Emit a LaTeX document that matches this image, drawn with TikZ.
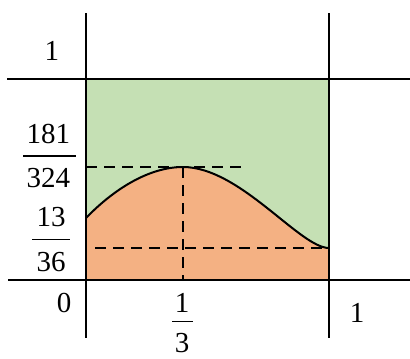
\documentclass[tikz,border=0pt]{standalone}
\usepackage{fontspec}
\setmainfont{Liberation Serif}
\definecolor{lgreen}{RGB}{197,224,180}
\definecolor{lorange}{RGB}{244,177,131}
\begin{document}
\begin{tikzpicture}[x=1pt,y=-1pt,
  axis/.style={line width=2.4pt},
  curvel/.style={line width=2pt},
  dashl/.style={line width=2.2pt,dash pattern=on 11pt off 7pt},
  fbar/.style={line width=1.8pt},
  lbl/.style={inner sep=0pt,anchor=base,font=\fontsize{29}{32}\selectfont}]
\useasboundingbox (0,0) rectangle (410,359);
\coordinate (O) at (86,280);
\coordinate (A) at (329,280);
\coordinate (B) at (329,79);
\coordinate (S) at (86,218);
\coordinate (M) at (183,167);
\coordinate (E) at (329,248);
% fills
\fill[lgreen] (O) rectangle (B);
\fill[lorange] (O) -- (S) .. controls (115,188) and (150,167) .. (M)
  .. controls (240,167) and (300,248) .. (E) -- (A) -- cycle;
% dashed lines
\coordinate (U1) at (86,167);
\coordinate (U2) at (246,167);
\coordinate (L1) at (95,248);
\coordinate (MB) at (183,280);
\draw[dashl] (U1) -- (U2);
\draw[dashl] (L1) -- (E);
\draw[dashl] (M) -- (MB);
% curve
\draw[curvel] (S) .. controls (115,188) and (150,167) .. (M)
  .. controls (240,167) and (300,248) .. (E);
% axes
\coordinate (LT) at (86,13);
\coordinate (LB) at (86,338);
\coordinate (RT) at (329,13);
\coordinate (RB) at (329,338);
\coordinate (TL) at (7,79);
\coordinate (TR) at (410,79);
\coordinate (BL) at (8,280);
\coordinate (BR) at (410,280);
\draw[axis] (LT) -- (LB);
\draw[axis] (RT) -- (RB);
\draw[axis] (TL) -- (TR);
\draw[axis] (BL) -- (BR);
% labels
\node[lbl] (one1) at (52,60) {1};
\node[lbl] (n1) at (48.5,143) {181};
\coordinate (b1l) at (23,156);
\coordinate (b1r) at (76,156);
\draw[fbar] (b1l) -- (b1r);
\node[lbl] (d1) at (48.5,187) {324};
\node[lbl] (n2) at (51,226) {13};
\coordinate (b2l) at (32,239.5);
\coordinate (b2r) at (70,239.5);
\draw[fbar] (b2l) -- (b2r);
\node[lbl] (d2) at (51,271) {36};
\node[lbl] (zero) at (64,312) {0};
\node[lbl] (n3) at (182,312.5) {1};
\coordinate (b3l) at (172,321.5);
\coordinate (b3r) at (193,321.5);
\draw[fbar] (b3l) -- (b3r);
\node[lbl] (d3) at (182,352) {3};
\node[lbl] (one2) at (357,322) {1};
\end{tikzpicture}
\end{document}
